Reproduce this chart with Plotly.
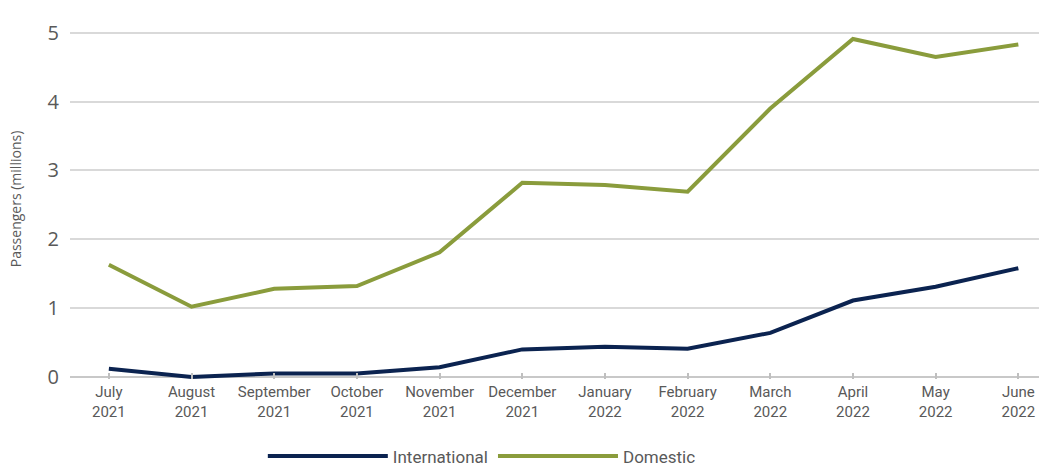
import plotly.graph_objects as go

months = ["July<br>2021", "August<br>2021", "September<br>2021", "October<br>2021",
          "November<br>2021", "December<br>2021", "January<br>2022", "February<br>2022",
          "March<br>2022", "April<br>2022", "May<br>2022", "June<br>2022"]
international = [0.12, 0.0, 0.05, 0.05, 0.14, 0.40, 0.44, 0.41, 0.64, 1.11, 1.31, 1.58]
domestic = [1.63, 1.02, 1.28, 1.32, 1.81, 2.82, 2.79, 2.69, 3.90, 4.91, 4.65, 4.83]
y_ticks = [0, 1, 2, 3, 4, 5]

x = list(range(len(months)))
font_family = "Roboto, Noto Sans, sans-serif"

fig = go.Figure()
fig.add_trace(go.Scatter(x=x, y=international, mode="lines", name="International",
                         line=dict(color="#0b2350", width=4)))
fig.add_trace(go.Scatter(x=x, y=domestic, mode="lines", name="Domestic",
                         line=dict(color="#8a9c3c", width=4)))

fig.update_layout(
    width=1039, height=470,
    margin=dict(l=70, r=0, t=19, b=91, autoexpand=False),
    plot_bgcolor="white", paper_bgcolor="white",
    font=dict(family=font_family, color="#595959"),
    showlegend=True,
    legend=dict(orientation="h", x=0.425, xanchor="center", y=-0.215, yanchor="middle",
                font=dict(size=17, color="#595959"), itemwidth=120,
                traceorder="normal"),
    xaxis=dict(
        tickmode="array", tickvals=x, ticktext=months,
        range=[-0.47, 11.25], showgrid=False, zeroline=False,
        ticks="inside", ticklen=6, tickcolor="#bfbfbf", tickwidth=1.5,
        tickfont=dict(size=15, color="#595959"), showline=False,
        ticklabelstandoff=2,
    ),
    yaxis=dict(
        range=[-0.03, 5.2], tickmode="array", tickvals=y_ticks,
        showgrid=True, gridcolor="#d9d9d9", gridwidth=1.5,
        zeroline=True, zerolinecolor="#c8c8c8", zerolinewidth=1.5,
        tickfont=dict(size=20, color="#595959", family="Open Sans, sans-serif"),
        ticklabelstandoff=10,
        title=dict(text="Passengers (millions)", font=dict(size=14, color="#595959",
                   family="Open Sans, sans-serif"), standoff=22),
    ),
)

fig.write_html("out.html")
